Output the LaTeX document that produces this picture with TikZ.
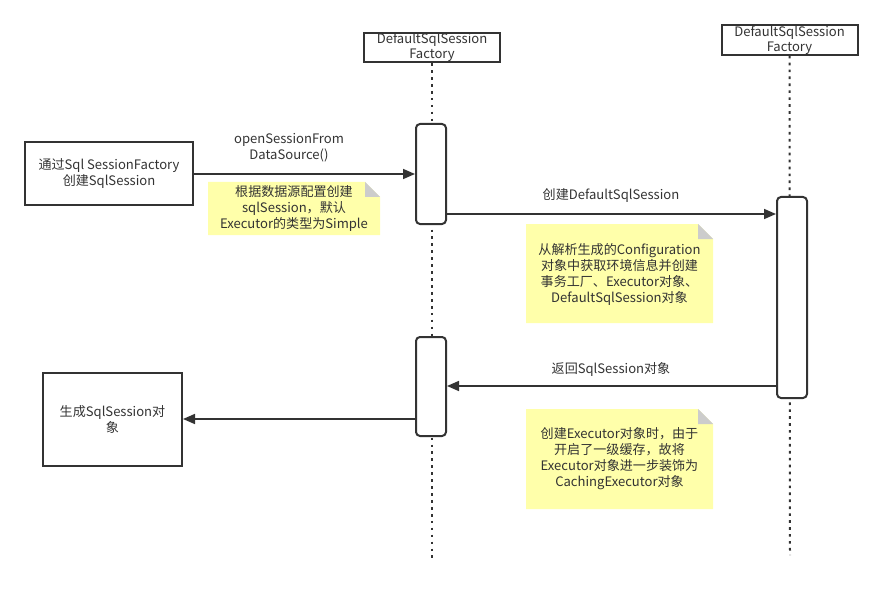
\documentclass[tikz,border=0pt]{standalone}
\usepackage{fontspec}
\setmainfont{Noto Sans CJK SC}
\usetikzlibrary{arrows.meta}
\definecolor{notey}{HTML}{FFFFAA}
\definecolor{foldg}{HTML}{CCCCCC}
\definecolor{txt}{HTML}{333333}
\definecolor{ln}{HTML}{333333}
\begin{document}
\begin{tikzpicture}[x=0.75pt,y=-0.75pt,
  every node/.style={font=\fontsize{9.8}{12}\selectfont, text=txt, inner sep=0pt},
  headbox/.style={draw=ln, line width=1.5pt, minimum width=102pt, minimum height=22pt, align=center, font=\fontsize{9.8}{11.2}\selectfont},
  actbox/.style={draw=ln, line width=1.5pt, rounded corners=3pt, minimum width=22.5pt, fill=white},
  plainbox/.style={draw=ln, line width=1.5pt, align=center},
  lifeline/.style={draw=ln, line width=1.5pt, dash pattern=on 2pt off 3.2pt},
  msg/.style={draw=ln, line width=1.2pt, -{Triangle[length=9pt,width=7.5pt]}},
  lbl/.style={align=center},
  notetext/.style={align=center, font=\fontsize{9.8}{12}\selectfont}
]
\useasboundingbox (0,0) rectangle (883,592);
% lifelines
\node[headbox] (h1) at (432,47.5) {DefaultSqlSession\\Factory};
\node[headbox] (h2) at (789.5,40) {DefaultSqlSession\\Factory};
\coordinate (e1) at (432,562);
\coordinate (e2) at (790,555);
\draw[lifeline] (h1.south) -- (e1);
\draw[lifeline] (h2.south) -- (e2);
% activations
\node[actbox, minimum height=75pt] (a1) at (431,174) {};
\node[actbox, minimum height=150.75pt] (a2) at (792,297.5) {};
\node[actbox, minimum height=74.25pt] (a3) at (431,386.5) {};
% left boxes
\node[plainbox, minimum width=126pt, minimum height=47.25pt] (b1) at (109,173.5) {通过Sql SessionFactory\\创建SqlSession};
\node[plainbox, minimum width=104.25pt, minimum height=69.75pt] (b2) at (112.5,419.5) {生成SqlSession对\\象};
% notes
\fill[notey] (208,182) -- (365,182) -- (380,197) -- (380,235) -- (208,235) -- cycle;
\fill[foldg] (365,182) -- (380,197) -- (365,197) -- cycle;
\node[notetext] (n1) at (294,208.5) {根据数据源配置创建\\sqlSession，默认\\Executor的类型为Simple};
\fill[notey] (526,224) -- (698,224) -- (713,239) -- (713,323) -- (526,323) -- cycle;
\fill[foldg] (698,224) -- (713,239) -- (698,239) -- cycle;
\node[notetext] (n2) at (619.5,274) {从解析生成的Configuration\\对象中获取环境信息并创建\\事务工厂、Executor对象、\\DefaultSqlSession对象};
\fill[notey] (526,409) -- (698,409) -- (713,424) -- (713,509) -- (526,509) -- cycle;
\fill[foldg] (698,409) -- (713,424) -- (698,424) -- cycle;
\node[notetext] (n3) at (619.5,459) {创建Executor对象时，由于\\开启了一级缓存，故将\\Executor对象进一步装饰为\\CachingExecutor对象};
% messages
\draw[msg] (b1.east |- 0,174) -- (a1.west |- 0,174);
\node[lbl] (l1) at (289,148) {openSessionFrom\\DataSource()};
\draw[msg] (a1.east |- 0,214) -- (a2.west |- 0,214);
\node[lbl] (l2) at (611,196) {创建DefaultSqlSession};
\draw[msg] (a2.west |- 0,386) -- (a3.east |- 0,386);
\node[lbl] (l3) at (611,369) {返回SqlSession对象};
\draw[msg] (a3.west |- 0,419) -- (b2.east |- 0,419);
\end{tikzpicture}
\end{document}
